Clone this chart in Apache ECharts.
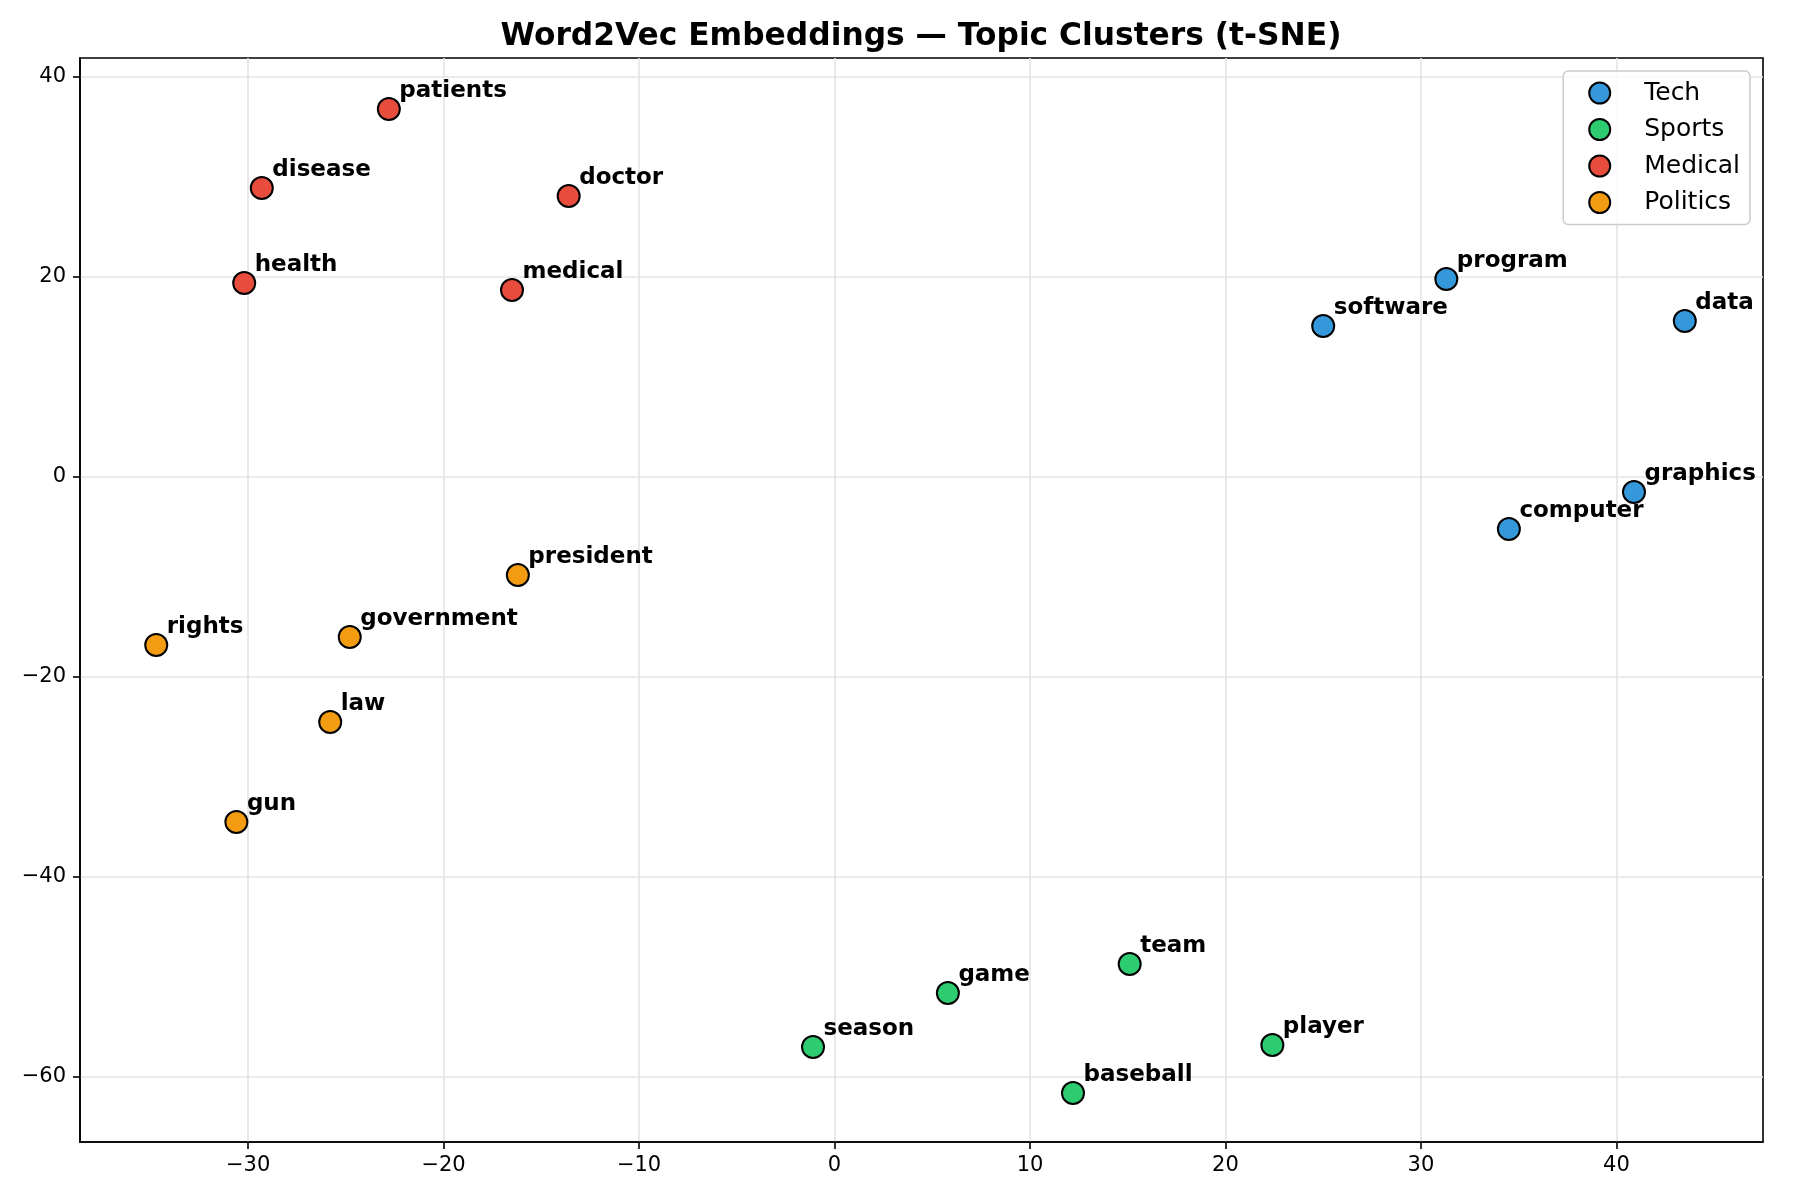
<!DOCTYPE html>
<html>
<head>
<meta charset="utf-8">
<title>Word2Vec Embeddings</title>
<script src="https://cdn.jsdelivr.net/npm/echarts@6/dist/echarts.min.js"></script>
<style>
  html, body { margin: 0; padding: 0; background: #fff; }
  #chart { width: 1800px; height: 1200px; }
</style>
</head>
<body>
<div id="chart"></div>
<script>
// t-SNE coordinates
const techWords = ['program', 'software', 'data', 'graphics', 'computer']
const techX = [31.3, 25.0, 43.5, 40.9, 34.5]
const techY = [19.8, 15.1, 15.6, -1.5, -5.2]

const sportsWords = ['team', 'game', 'season', 'player', 'baseball']
const sportsX = [15.1, 5.8, -1.1, 22.4, 12.2]
const sportsY = [-48.7, -51.6, -57.0, -56.8, -61.6]

const medicalWords = ['patients', 'disease', 'doctor', 'health', 'medical']
const medicalX = [-22.8, -29.3, -13.6, -30.2, -16.5]
const medicalY = [36.8, 28.9, 28.1, 19.4, 18.7]

const politicsWords = ['president', 'government', 'rights', 'law', 'gun']
const politicsX = [-16.2, -24.8, -34.7, -25.8, -30.6]
const politicsY = [-9.8, -16.0, -16.8, -24.5, -34.5]

const xTicks = [-30, -20, -10, 0, 10, 20, 30, 40]
const yTicks = [-60, -40, -20, 0, 20, 40]

const topics = [
  { name: 'Tech', color: '#3498db', words: techWords, xs: techX, ys: techY },
  { name: 'Sports', color: '#2ecc71', words: sportsWords, xs: sportsX, ys: sportsY },
  { name: 'Medical', color: '#e74c3c', words: medicalWords, xs: medicalX, ys: medicalY },
  { name: 'Politics', color: '#f39c12', words: politicsWords, xs: politicsX, ys: politicsY }
]

const FONT = 'DejaVu Sans'
const fmt = v => (v < 0 ? '\u2212' + Math.abs(v) : String(v))

const axisCommon = {
  axisLine: { show: true, onZero: false, lineStyle: { color: '#000', width: 1.6 } },
  axisTick: { show: true, length: 7, lineStyle: { color: '#000', width: 1.6 } },
  splitLine: { show: true, lineStyle: { color: '#e4e4e4', width: 1.6 } }
}

const chart = echarts.init(document.getElementById('chart'), null, { renderer: 'canvas' })

chart.setOption({
  animation: false,
  backgroundColor: '#fff',
  textStyle: { fontFamily: FONT },
  title: {
    text: 'Word2Vec Embeddings \u2014 Topic Clusters (t-SNE)',
    // centred over the plot area (80 .. 1763), not the page
    left: 921,
    top: 21,
    padding: 0,
    textAlign: 'center',
    textStyle: { fontFamily: FONT, fontWeight: 'bold', fontSize: 31.3, color: '#000' }
  },
  legend: {
    right: 50,
    top: 71,
    orient: 'vertical',
    itemWidth: 21,
    itemHeight: 21,
    itemGap: 8.5,
    padding: [8, 10, 8, 25],
    backgroundColor: 'rgba(255,255,255,0.8)',
    borderColor: '#cccccc',
    borderWidth: 1.5,
    borderRadius: 5,
    textStyle: { fontFamily: FONT, fontSize: 25, color: '#000', lineHeight: 28, padding: [0, 0, 0, 29] },
    data: topics.map(t => t.name)
  },
  grid: {
    left: 80, right: 37, top: 58, bottom: 58,
    show: true, borderColor: '#000', borderWidth: 1.6
  },
  xAxis: Object.assign({}, axisCommon, {
    type: 'value',
    min: -38.6,
    max: 47.5,
    splitNumber: 9,
    axisTick: Object.assign({}, axisCommon.axisTick, { customValues: xTicks }),
    axisLabel: {
      customValues: xTicks, margin: 13, formatter: fmt,
      fontFamily: FONT, fontSize: 21, color: '#000'
    }
  }),
  yAxis: Object.assign({}, axisCommon, {
    type: 'value',
    min: -66.5,
    max: 41.9,
    splitNumber: 5,
    axisTick: Object.assign({}, axisCommon.axisTick, { customValues: yTicks }),
    axisLabel: {
      customValues: yTicks, margin: 14, formatter: fmt,
      fontFamily: FONT, fontSize: 21, color: '#000'
    }
  }),
  series: topics.map(t => ({
    name: t.name,
    type: 'scatter',
    symbol: 'circle',
    symbolSize: 22,
    itemStyle: { color: t.color, borderColor: '#000', borderWidth: 2, opacity: 1 },
    emphasis: { disabled: true },
    label: {
      show: true,
      position: [22.5, 6],
      align: 'left',
      verticalAlign: 'bottom',
      lineHeight: 23,
      formatter: p => p.data[2],
      fontFamily: FONT,
      fontWeight: 'bold',
      fontSize: 23,
      color: '#000'
    },
    labelLayout: { hideOverlap: false },
    data: t.xs.map((x, i) => [x, t.ys[i], t.words[i]])
  }))
})

window.addEventListener('resize', () => {
  chart.resize()
})
</script>
</body>
</html>
